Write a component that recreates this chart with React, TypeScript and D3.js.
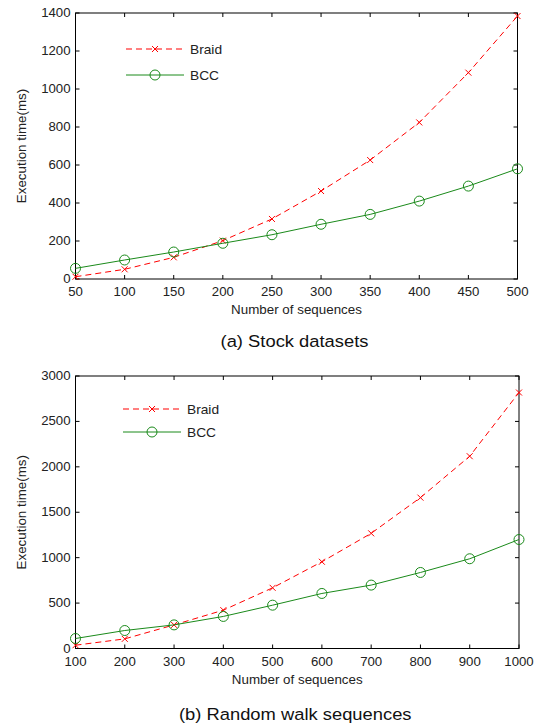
import React from "react";
import * as d3 from "d3";

// Stock datasets
const stockSizes = [50, 100, 150, 200, 250, 300, 350, 400, 450, 500];
const stockBraid = [12, 51, 114, 202, 316, 463, 626, 824, 1086, 1384];
const stockBCC = [56, 100, 142, 188, 233, 288, 340, 410, 489, 580];
const stockYTicks = [0, 200, 400, 600, 800, 1000, 1200, 1400];

// Random walk sequences
const walkSizes = [100, 200, 300, 400, 500, 600, 700, 800, 900, 1000];
const walkBraid = [36, 106, 260, 422, 668, 955, 1268, 1661, 2117, 2818];
const walkBCC = [110, 198, 260, 353, 477, 606, 698, 837, 988, 1200];
const walkYTicks = [0, 500, 1000, 1500, 2000, 2500, 3000];

const seriesNames = ["Braid", "BCC"];
const xLabel = "Number of sequences";
const yLabel = "Execution time(ms)";

const RED = "#ff0000";
const GREEN = "#1a8a1a";
const FONT = "Liberation Sans, Arial, sans-serif";

// Text with a slight horizontal stretch
function T(props: {
  x: number;
  y: number;
  size: number;
  sx?: number;
  rotate?: number;
  anchor?: "start" | "middle" | "end";
  fill?: string;
  children: React.ReactNode;
}) {
  const sx = props.sx ?? 1.1;
  const rot = props.rotate ? ` rotate(${props.rotate})` : "";
  return (
    <text
      transform={`translate(${props.x},${props.y})${rot} scale(${sx},1)`}
      textAnchor={props.anchor ?? "start"}
      fontSize={props.size}
      fontFamily={FONT}
      fill={props.fill ?? "#222"}
    >
      {props.children}
    </text>
  );
}

type PanelProps = {
  top: number;
  bottom: number;
  left: number;
  right: number;
  xs: number[];
  braid: number[];
  bcc: number[];
  yTicks: number[];
  yMax: number;
  caption: string;
  captionY: number;
  legendX: number;
  legendY: number;
  legendGap: number;
};

function Panel(p: PanelProps) {
  const x = d3.scaleLinear().domain([p.xs[0], p.xs[p.xs.length - 1]]).range([p.left, p.right]);
  const y = d3.scaleLinear().domain([0, p.yMax]).range([p.bottom, p.top]);
  const line = d3
    .line<number>()
    .x((_, i) => x(p.xs[i]))
    .y((d) => y(d));
  const tk = 4;
  const xMid = (p.left + p.right) / 2;
  const yMid = (p.top + p.bottom) / 2;

  const cross = (cx: number, cy: number, key: string | number) => (
    <g key={key} stroke={RED} strokeWidth={1}>
      <line x1={cx - 3} y1={cy - 3} x2={cx + 3} y2={cy + 3} />
      <line x1={cx - 3} y1={cy + 3} x2={cx + 3} y2={cy - 3} />
    </g>
  );
  const circ = (cx: number, cy: number, key: string | number) => (
    <circle key={key} cx={cx} cy={cy} r={5} fill="none" stroke={GREEN} strokeWidth={1} />
  );

  const lx1 = p.legendX;
  const lx2 = p.legendX + 58;
  const lmid = (lx1 + lx2) / 2;
  const ly1 = p.legendY;
  const ly2 = p.legendY + p.legendGap;

  return (
    <g>
      {/* frame */}
      <rect
        x={p.left}
        y={p.top}
        width={p.right - p.left}
        height={p.bottom - p.top}
        fill="none"
        stroke="#000"
        strokeWidth={1}
      />
      {/* x ticks, inward on bottom and top */}
      {p.xs.map((v) => (
        <g key={"xt" + v}>
          <line x1={x(v)} x2={x(v)} y1={p.bottom} y2={p.bottom - tk} stroke="#000" />
          <line x1={x(v)} x2={x(v)} y1={p.top} y2={p.top + tk} stroke="#000" />
          <T x={x(v)} y={p.bottom + 17} size={12} anchor="middle">
            {v}
          </T>
        </g>
      ))}
      {/* y ticks, inward on left and right */}
      {p.yTicks.map((v) => (
        <g key={"yt" + v}>
          <line x1={p.left} x2={p.left + tk} y1={y(v)} y2={y(v)} stroke="#000" />
          <line x1={p.right} x2={p.right - tk} y1={y(v)} y2={y(v)} stroke="#000" />
          <T x={p.left - 5} y={y(v) + 4} size={12} anchor="end">
            {v}
          </T>
        </g>
      ))}
      {/* series */}
      <path d={line(p.braid) || ""} fill="none" stroke={RED} strokeWidth={1} strokeDasharray="6,4" />
      {p.braid.map((v, i) => cross(x(p.xs[i]), y(v), "b" + i))}
      <path d={line(p.bcc) || ""} fill="none" stroke={GREEN} strokeWidth={1} />
      {p.bcc.map((v, i) => circ(x(p.xs[i]), y(v), "c" + i))}
      {/* legend */}
      <line x1={lx1} x2={lx2} y1={ly1} y2={ly1} stroke={RED} strokeDasharray="6,4" />
      {cross(lmid, ly1, "lb")}
      <T x={lx2 + 6} y={ly1 + 4.5} size={12.5}>
        {seriesNames[0]}
      </T>
      <line x1={lx1} x2={lx2} y1={ly2} y2={ly2} stroke={GREEN} />
      {circ(lmid, ly2, "lc")}
      <T x={lx2 + 6} y={ly2 + 4.5} size={12.5}>
        {seriesNames[1]}
      </T>
      {/* axis titles */}
      <T x={xMid} y={p.bottom + 35} size={12.5} sx={1.07} anchor="middle">
        {xLabel}
      </T>
      <T x={26} y={yMid} size={12.5} sx={1.07} rotate={-90} anchor="middle">
        {yLabel}
      </T>
      <T x={xMid - 2} y={p.captionY} size={17} sx={1.08} anchor="middle" fill="#111">
        {p.caption}
      </T>
    </g>
  );
}

export default function App() {
  return (
    <svg
      width={536}
      height={728}
      style={{ position: "absolute", left: 0, top: 0, background: "#fff" }}
    >
      <rect width={536} height={728} fill="#fff" />
      <Panel
        top={13}
        bottom={279}
        left={75.5}
        right={517.5}
        xs={stockSizes}
        braid={stockBraid}
        bcc={stockBCC}
        yTicks={stockYTicks}
        yMax={1400}
        caption="(a) Stock datasets"
        captionY={347}
        legendX={126}
        legendY={49}
        legendGap={26}
      />
      <Panel
        top={376}
        bottom={648.5}
        left={75.5}
        right={519}
        xs={walkSizes}
        braid={walkBraid}
        bcc={walkBCC}
        yTicks={walkYTicks}
        yMax={3000}
        caption="(b) Random walk sequences"
        captionY={720}
        legendX={123}
        legendY={409}
        legendGap={23}
      />
    </svg>
  );
}
